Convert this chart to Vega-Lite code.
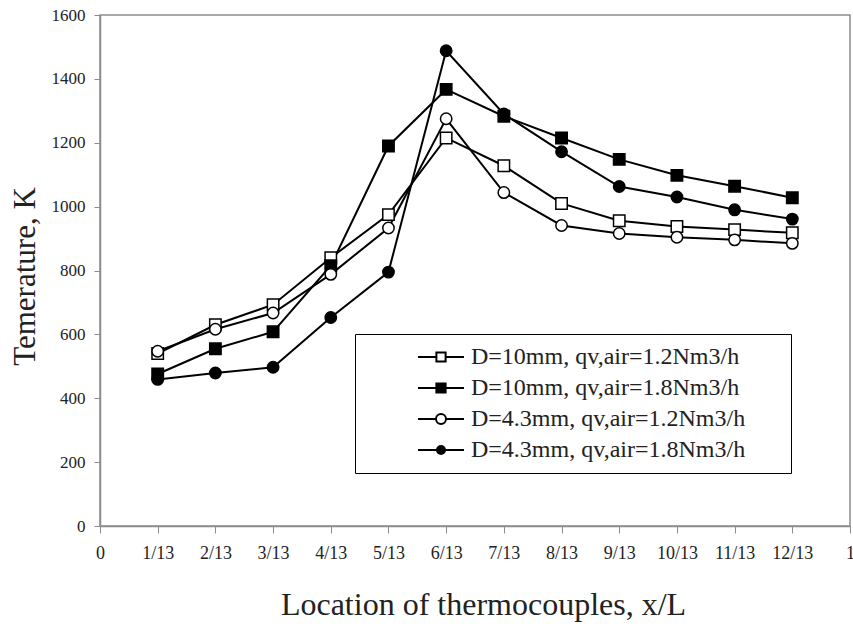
{
  "$schema": "https://vega.github.io/schema/vega-lite/v6.json",
  "width": 750,
  "height": 511,
  "autosize": {"type": "none"},
  "padding": {"left": 100, "top": 15, "right": 3, "bottom": 103},
  "background": "white",
  "config": {
    "view": {"stroke": "#8c8c8c", "strokeWidth": 1.5},
    "font": "Liberation Serif"
  },
  "data": {
    "values": [
      {"series": "D=10mm, qv,air=1.2Nm3/h", "pos": 1, "temp": 540},
      {"series": "D=10mm, qv,air=1.2Nm3/h", "pos": 2, "temp": 630},
      {"series": "D=10mm, qv,air=1.2Nm3/h", "pos": 3, "temp": 693},
      {"series": "D=10mm, qv,air=1.2Nm3/h", "pos": 4, "temp": 840},
      {"series": "D=10mm, qv,air=1.2Nm3/h", "pos": 5, "temp": 975},
      {"series": "D=10mm, qv,air=1.2Nm3/h", "pos": 6, "temp": 1215},
      {"series": "D=10mm, qv,air=1.2Nm3/h", "pos": 7, "temp": 1128},
      {"series": "D=10mm, qv,air=1.2Nm3/h", "pos": 8, "temp": 1010},
      {"series": "D=10mm, qv,air=1.2Nm3/h", "pos": 9, "temp": 956},
      {"series": "D=10mm, qv,air=1.2Nm3/h", "pos": 10, "temp": 938},
      {"series": "D=10mm, qv,air=1.2Nm3/h", "pos": 11, "temp": 928},
      {"series": "D=10mm, qv,air=1.2Nm3/h", "pos": 12, "temp": 918},
      {"series": "D=10mm, qv,air=1.8Nm3/h", "pos": 1, "temp": 476},
      {"series": "D=10mm, qv,air=1.8Nm3/h", "pos": 2, "temp": 555},
      {"series": "D=10mm, qv,air=1.8Nm3/h", "pos": 3, "temp": 608},
      {"series": "D=10mm, qv,air=1.8Nm3/h", "pos": 4, "temp": 815},
      {"series": "D=10mm, qv,air=1.8Nm3/h", "pos": 5, "temp": 1190},
      {"series": "D=10mm, qv,air=1.8Nm3/h", "pos": 6, "temp": 1367},
      {"series": "D=10mm, qv,air=1.8Nm3/h", "pos": 7, "temp": 1283},
      {"series": "D=10mm, qv,air=1.8Nm3/h", "pos": 8, "temp": 1215},
      {"series": "D=10mm, qv,air=1.8Nm3/h", "pos": 9, "temp": 1148},
      {"series": "D=10mm, qv,air=1.8Nm3/h", "pos": 10, "temp": 1098},
      {"series": "D=10mm, qv,air=1.8Nm3/h", "pos": 11, "temp": 1064},
      {"series": "D=10mm, qv,air=1.8Nm3/h", "pos": 12, "temp": 1028},
      {"series": "D=4.3mm, qv,air=1.2Nm3/h", "pos": 1, "temp": 547},
      {"series": "D=4.3mm, qv,air=1.2Nm3/h", "pos": 2, "temp": 616},
      {"series": "D=4.3mm, qv,air=1.2Nm3/h", "pos": 3, "temp": 667},
      {"series": "D=4.3mm, qv,air=1.2Nm3/h", "pos": 4, "temp": 788},
      {"series": "D=4.3mm, qv,air=1.2Nm3/h", "pos": 5, "temp": 933},
      {"series": "D=4.3mm, qv,air=1.2Nm3/h", "pos": 6, "temp": 1275},
      {"series": "D=4.3mm, qv,air=1.2Nm3/h", "pos": 7, "temp": 1044},
      {"series": "D=4.3mm, qv,air=1.2Nm3/h", "pos": 8, "temp": 941},
      {"series": "D=4.3mm, qv,air=1.2Nm3/h", "pos": 9, "temp": 916},
      {"series": "D=4.3mm, qv,air=1.2Nm3/h", "pos": 10, "temp": 904},
      {"series": "D=4.3mm, qv,air=1.2Nm3/h", "pos": 11, "temp": 896},
      {"series": "D=4.3mm, qv,air=1.2Nm3/h", "pos": 12, "temp": 885},
      {"series": "D=4.3mm, qv,air=1.8Nm3/h", "pos": 1, "temp": 459},
      {"series": "D=4.3mm, qv,air=1.8Nm3/h", "pos": 2, "temp": 479},
      {"series": "D=4.3mm, qv,air=1.8Nm3/h", "pos": 3, "temp": 497},
      {"series": "D=4.3mm, qv,air=1.8Nm3/h", "pos": 4, "temp": 653},
      {"series": "D=4.3mm, qv,air=1.8Nm3/h", "pos": 5, "temp": 795},
      {"series": "D=4.3mm, qv,air=1.8Nm3/h", "pos": 6, "temp": 1488},
      {"series": "D=4.3mm, qv,air=1.8Nm3/h", "pos": 7, "temp": 1290},
      {"series": "D=4.3mm, qv,air=1.8Nm3/h", "pos": 8, "temp": 1172},
      {"series": "D=4.3mm, qv,air=1.8Nm3/h", "pos": 9, "temp": 1063},
      {"series": "D=4.3mm, qv,air=1.8Nm3/h", "pos": 10, "temp": 1030},
      {"series": "D=4.3mm, qv,air=1.8Nm3/h", "pos": 11, "temp": 990},
      {"series": "D=4.3mm, qv,air=1.8Nm3/h", "pos": 12, "temp": 961}
    ]
  },
  "encoding": {
    "x": {
      "field": "pos",
      "type": "quantitative",
      "scale": {"domain": [0, 13], "nice": false, "zero": false},
      "axis": {
        "values": [0, 1, 2, 3, 4, 5, 6, 7, 8, 9, 10, 11, 12, 13],
        "labelExpr": "datum.value == 0 ? '0' : (datum.value == 13 ? '1' : datum.value + '/13')",
        "grid": false,
        "domainColor": "#8c8c8c",
        "domainWidth": 1.5,
        "tickColor": "#8c8c8c",
        "tickSize": 7,
        "tickWidth": 1,
        "labelFont": "Liberation Serif",
        "labelFontSize": 18,
        "labelColor": "#222222",
        "labelPadding": 11,
        "labelFlush": false,
        "labelOverlap": false,
        "title": "Location of thermocouples, x/L",
        "titleFont": "Liberation Serif",
        "titleFontSize": 32,
        "titleFontWeight": "normal",
        "titleColor": "#222222",
        "titleX": 383,
        "titleY": 88,
        "titleAlign": "center",
        "titleBaseline": "alphabetic"
      }
    },
    "y": {
      "field": "temp",
      "type": "quantitative",
      "scale": {"domain": [0, 1600], "nice": false},
      "axis": {
        "values": [0, 200, 400, 600, 800, 1000, 1200, 1400, 1600],
        "format": "d",
        "grid": false,
        "domainColor": "#8c8c8c",
        "domainWidth": 1.5,
        "tickColor": "#8c8c8c",
        "tickSize": 6,
        "tickWidth": 1,
        "labelFont": "Liberation Serif",
        "labelFontSize": 17,
        "labelColor": "#222222",
        "labelPadding": 9,
        "labelFlush": false,
        "labelOverlap": false,
        "title": "Temerature, K",
        "titleFont": "Liberation Serif",
        "titleFontSize": 31,
        "titleFontWeight": "normal",
        "titleColor": "#222222",
        "titleAngle": -90,
        "titleX": -66,
        "titleY": 261,
        "titleAlign": "center",
        "titleBaseline": "alphabetic"
      }
    }
  },
  "layer": [
    {
      "mark": {"type": "line", "color": "black", "strokeWidth": 2},
      "encoding": {"detail": {"field": "series"}}
    },
    {
      "mark": {"type": "point", "filled": true, "stroke": "black", "strokeWidth": 1.5, "opacity": 1, "size": 130},
      "encoding": {
        "shape": {
          "field": "series",
          "type": "nominal",
          "scale": {
            "domain": ["D=4.3mm, qv,air=1.2Nm3/h", "D=4.3mm, qv,air=1.8Nm3/h", "D=10mm, qv,air=1.2Nm3/h", "D=10mm, qv,air=1.8Nm3/h"],
            "range": ["circle", "circle", "square", "square"]
          },
          "legend": null
        },
        "fill": {
          "field": "series",
          "type": "nominal",
          "scale": {
            "domain": ["D=10mm, qv,air=1.2Nm3/h", "D=10mm, qv,air=1.8Nm3/h", "D=4.3mm, qv,air=1.2Nm3/h", "D=4.3mm, qv,air=1.8Nm3/h"],
            "range": ["white", "black", "white", "black"]
          },
          "legend": {
            "title": " ",
            "titleOrient": "right",
            "titleFontSize": 8,
            "titlePadding": 35,
            "orient": "none",
            "legendX": 255,
            "legendY": 319,
            "strokeColor": "black",
            "fillColor": "white",
            "padding": 11,
            "symbolOffset": 63,
            "symbolSize": 400,
            "symbolType": {"expr": "datum.index == 0 || datum.index == 1 ? 'M-2.3,0H-0.46M0.46,0H2.3M-0.46,-0.46H0.46V0.46H-0.46Z' : (datum.index == 2 ? 'M-2.3,0H-0.5M0.5,0H2.3M0.5,0A0.5,0.5,0,1,1,-0.5,0A0.5,0.5,0,1,1,0.5,0Z' : 'M-2.3,0H-0.4M0.4,0H2.3M0.4,0A0.4,0.4,0,1,1,-0.4,0A0.4,0.4,0,1,1,0.4,0Z')"},
            "symbolStrokeWidth": 2,
            "symbolStrokeColor": "black",
            "labelFont": "Liberation Serif",
            "labelFontSize": 24,
            "labelColor": "#222222",
            "labelOffset": 18,
            "labelLimit": 400,
            "rowPadding": 7,
            "encode": {
              "legend": {"strokeWidth": {"value": 1.5}},
              "symbols": {
                "stroke": {"value": "black"},
                "strokeWidth": {"value": 2}
              }
            }
          }
        }
      }
    }
  ]
}
